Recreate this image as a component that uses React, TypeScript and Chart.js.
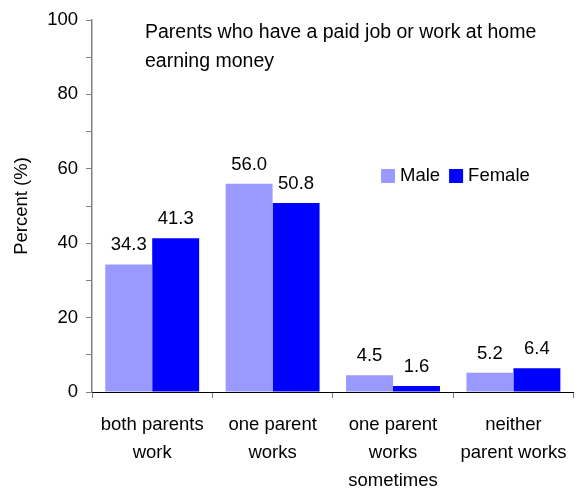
import React, { useEffect, useRef } from "react";
import { Chart, registerables } from "chart.js";

Chart.register(...registerables);

const categories: string[][] = [
  ["both parents", "work"],
  ["one parent", "works"],
  ["one parent", "works", "sometimes"],
  ["neither", "parent works"],
];
const maleValues = [34.3, 56.0, 4.5, 5.2];
const femaleValues = [41.3, 50.8, 1.6, 6.4];
const seriesNames = ["Male", "Female"];
const seriesColors = ["#9999FF", "#0000FF"];
const titleLines = ["Parents who have a paid job or work at home", "earning money"];
const yTitle = "Percent (%)";

const FONT = "Arial, 'Liberation Sans', sans-serif";
const FS = 18.5;

export default function App() {
  const ref = useRef<HTMLCanvasElement | null>(null);

  useEffect(() => {
    if (!ref.current) return;

    const labelPlugin = {
      id: "valueLabels",
      afterDatasetsDraw(chart: any) {
        const ctx = chart.ctx;
        ctx.save();
        ctx.font = `${FS}px ${FONT}`;
        ctx.fillStyle = "#000";
        ctx.textAlign = "center";
        ctx.textBaseline = "alphabetic";
        chart.data.datasets.forEach((ds: any, di: number) => {
          const meta = chart.getDatasetMeta(di);
          meta.data.forEach((bar: any, i: number) => {
            ctx.fillText(Number(ds.data[i]).toFixed(1), bar.x, bar.y - 14);
          });
        });
        ctx.restore();
      },
    };

    const overlayPlugin = {
      id: "overlay",
      afterDraw(chart: any) {
        const ctx = chart.ctx;
        const a = chart.chartArea;
        ctx.save();
        ctx.font = `19.5px ${FONT}`;
        ctx.fillStyle = "#000";
        ctx.textAlign = "left";
        ctx.textBaseline = "middle";
        ctx.fillText(titleLines[0], a.left + 53, a.top + 13);
        ctx.fillText(titleLines[1], a.left + 53, a.top + 42);
        // legend
        ctx.font = `${FS}px ${FONT}`;
        let x = a.left + 289;
        const y = a.top + 156;
        seriesNames.forEach((n, i) => {
          ctx.fillStyle = seriesColors[i];
          ctx.fillRect(x, y - 7, 14, 14);
          ctx.fillStyle = "#000";
          ctx.fillText(n, x + 19, y);
          x += 19 + ctx.measureText(n).width + 9;
        });
        ctx.restore();
      },
    };

    const chart = new Chart(ref.current, {
      type: "bar",
      data: {
        labels: categories,
        datasets: [
          { label: seriesNames[0], data: maleValues, backgroundColor: seriesColors[0] },
          { label: seriesNames[1], data: femaleValues, backgroundColor: seriesColors[1] },
        ],
      },
      options: {
        animation: false,
        responsive: false,
        maintainAspectRatio: false,
        layout: { padding: { top: 20, right: 5, left: 0, bottom: 0 } },
        datasets: { bar: { categoryPercentage: 0.78, barPercentage: 1 } },
        plugins: {
          legend: { display: false },
          tooltip: { enabled: false },
        },
        scales: {
          x: {
            grid: {
              display: true,
              drawOnChartArea: false,
              offset: true,
              tickLength: 6,
              color: "#808080",
            },
            border: { color: "#000", width: 1 },
            ticks: {
              color: "#000",
              font: { family: FONT, size: FS, lineHeight: "28px" as any },
              padding: 13,
              maxRotation: 0,
              autoSkip: false,
            },
            afterFit(s: any) {
              s.height = 96;
            },
          },
          y: {
            min: 0,
            max: 100,
            grid: {
              drawOnChartArea: false,
              tickLength: 6,
              color: "#808080",
            },
            border: { color: "#808080", width: 1.5 },
            ticks: {
              stepSize: 10,
              color: "#000",
              font: { family: FONT, size: FS },
              padding: 8,
              callback: (v: any) => (Number(v) % 20 === 0 ? String(v) : ""),
            },
            title: {
              display: true,
              text: yTitle,
              color: "#000",
              font: { family: FONT, size: FS },
              padding: { top: 11, bottom: 0 },
            },
            afterFit(s: any) {
              s.width = 92;
            },
          },
        },
      },
      plugins: [labelPlugin, overlayPlugin],
    } as any);

    return () => chart.destroy();
  }, []);

  return (
    <div style={{ position: "fixed", left: 0, top: 0, width: 580, height: 488, background: "#fff" }}>
      <canvas ref={ref} width={580} height={488} />
    </div>
  );
}
